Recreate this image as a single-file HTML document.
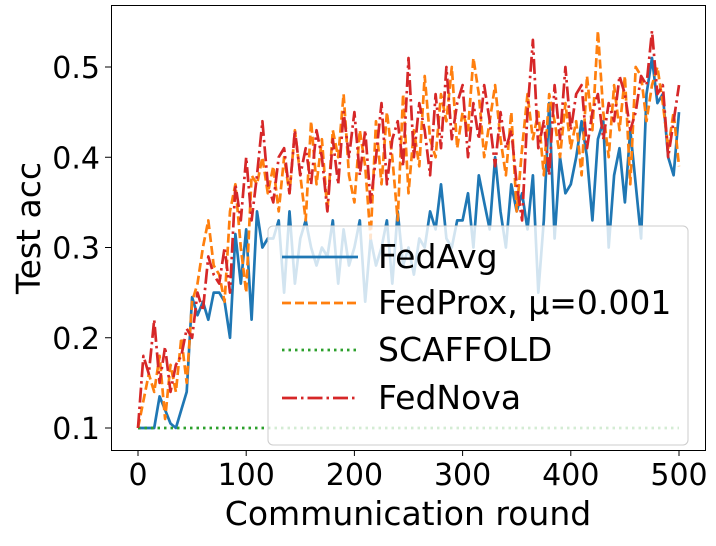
<!DOCTYPE html>
<html><head><meta charset="utf-8"><style>
html,body{margin:0;padding:0;background:#fff}
svg text{font-family:"DejaVu Sans","Liberation Sans",sans-serif;fill:#000}
</style></head><body>
<svg id="chart" width="716" height="541" xmlns="http://www.w3.org/2000/svg">
<g id="series"></g>
<rect x="111.5" y="5.5" width="594" height="445" fill="none" stroke="#000" stroke-width="1"/>
<g id="xticks"></g>
<g id="yticks"></g>
<text x="408" y="525" font-size="33" text-anchor="middle">Communication round</text>
<text transform="translate(40,228) rotate(-90)" font-size="33" text-anchor="middle">Test acc</text>
<g id="legend">
<rect x="268" y="226" width="420" height="219" rx="5" fill="#fff" fill-opacity="0.8" stroke="#ccc" stroke-width="1"/>
</g>
</svg>
<script>
const rounds=[];for(let r=0;r<=500;r+=5)rounds.push(r);
const fedavg=[0.10,0.10,0.10,0.10,0.135,0.12,0.105,0.10,0.12,0.14,
0.245,0.225,0.24,0.22,0.25,0.25,0.24,0.20,0.315,0.26,
0.32,0.22,0.34,0.30,0.31,0.31,0.33,0.25,0.34,0.26,
0.31,0.33,0.30,0.28,0.30,0.29,0.33,0.26,0.32,0.28,
0.30,0.33,0.24,0.31,0.28,0.30,0.33,0.26,0.34,0.28,
0.30,0.27,0.31,0.30,0.34,0.32,0.37,0.31,0.30,0.33,
0.33,0.36,0.30,0.38,0.35,0.32,0.40,0.34,0.30,0.37,
0.34,0.36,0.32,0.38,0.25,0.33,0.46,0.31,0.40,0.36,
0.37,0.40,0.44,0.40,0.33,0.42,0.44,0.30,0.38,0.41,
0.35,0.43,0.37,0.31,0.47,0.51,0.46,0.47,0.40,0.38,0.45];
const fedprox=[0.10,0.13,0.16,0.14,0.18,0.11,0.17,0.14,0.20,0.15,
0.24,0.26,0.30,0.33,0.28,0.27,0.24,0.34,0.37,0.30,
0.25,0.38,0.37,0.40,0.36,0.39,0.34,0.40,0.36,0.43,
0.38,0.33,0.44,0.37,0.42,0.34,0.43,0.40,0.47,0.38,
0.35,0.43,0.39,0.31,0.44,0.37,0.45,0.40,0.33,0.47,
0.36,0.43,0.39,0.49,0.42,0.40,0.47,0.44,0.50,0.41,
0.45,0.43,0.51,0.47,0.40,0.44,0.48,0.42,0.38,0.45,
0.34,0.41,0.47,0.42,0.45,0.38,0.47,0.44,0.40,0.46,
0.41,0.44,0.38,0.49,0.43,0.54,0.45,0.40,0.48,0.43,
0.49,0.37,0.50,0.49,0.44,0.48,0.50,0.46,0.41,0.45,0.39];
const scaffold=[0.1,0.1,0.1,0.1,0.1,0.1,0.1,0.1,0.1,0.1,0.1,0.1,0.1,0.1,0.1,0.1,0.1,0.1,0.1,0.1,
0.1,0.1,0.1,0.1,0.1,0.1,0.1,0.1,0.1,0.1,0.1,0.1,0.1,0.1,0.1,0.1,0.1,0.1,0.1,0.1,
0.1,0.1,0.1,0.1,0.1,0.1,0.1,0.1,0.1,0.1,0.1,0.1,0.1,0.1,0.1,0.1,0.1,0.1,0.1,0.1,
0.1,0.1,0.1,0.1,0.1,0.1,0.1,0.1,0.1,0.1,0.1,0.1,0.1,0.1,0.1,0.1,0.1,0.1,0.1,0.1,
0.1,0.1,0.1,0.1,0.1,0.1,0.1,0.1,0.1,0.1,0.1,0.1,0.1,0.1,0.1,0.1,0.1,0.1,0.1,0.1,0.1];
const fednova=[0.10,0.18,0.16,0.22,0.15,0.19,0.14,0.17,0.18,0.21,
0.20,0.25,0.23,0.29,0.27,0.26,0.30,0.25,0.37,0.33,
0.40,0.33,0.38,0.44,0.37,0.35,0.40,0.41,0.36,0.43,
0.38,0.41,0.37,0.43,0.40,0.34,0.42,0.37,0.45,0.40,
0.45,0.38,0.43,0.35,0.40,0.46,0.37,0.42,0.44,0.39,
0.51,0.40,0.46,0.43,0.38,0.47,0.41,0.50,0.42,0.46,
0.48,0.40,0.46,0.42,0.48,0.44,0.39,0.45,0.41,0.43,
0.37,0.33,0.45,0.53,0.41,0.44,0.38,0.48,0.42,0.50,
0.43,0.47,0.48,0.41,0.45,0.47,0.42,0.46,0.44,0.49,
0.47,0.43,0.45,0.49,0.48,0.54,0.47,0.48,0.40,0.44,0.48];
const xTicks=[0,100,200,300,400,500];
const yTicks=[0.1,0.2,0.3,0.4,0.5];
const names=["FedAvg","FedProx, μ=0.001","SCAFFOLD","FedNova"];

const NS="http://www.w3.org/2000/svg";
const X=v=>138+v*1.082;
const Y=v=>428-(v-0.1)*902.5;
function mk(t,a,p){const e=document.createElementNS(NS,t);for(const k in a)e.setAttribute(k,a[k]);p.appendChild(e);return e;}
const styles=[{c:"#1f77b4",d:""},{c:"#ff7f0e",d:"9,4"},{c:"#2ca02c",d:"2.5,4"},{c:"#d62728",d:"15,4,2.5,4"}];
const data=[fedavg,fedprox,scaffold,fednova];
const keys=["fedavg","fedprox","scaffold","fednova"];
const sg=document.getElementById("series");
data.forEach((s,i)=>{
  const p=mk("path",{d:s.map((v,j)=>(j?"L":"M")+X(rounds[j]).toFixed(1)+","+Y(v).toFixed(1)).join(""),fill:"none",stroke:styles[i].c,"stroke-width":2.7,"stroke-dasharray":styles[i].d,"stroke-linejoin":"round"},sg);
  
  
});
const xg=document.getElementById("xticks");
xTicks.forEach(t=>{
  const l=mk("line",{x1:X(t),x2:X(t),y1:450,y2:456,stroke:"#000"},xg);
  
  
  const tx=mk("text",{x:X(t),y:485,"font-size":30,"text-anchor":"middle"},xg);tx.textContent=t;
  
  
});
const yg=document.getElementById("yticks");
yTicks.forEach(t=>{
  const l=mk("line",{x1:105,x2:111,y1:Y(t),y2:Y(t),stroke:"#000"},yg);
  
  
  const tx=mk("text",{x:100,y:Y(t)+11,"font-size":30,"text-anchor":"end"},yg);tx.textContent=t.toFixed(1);
  
  
});
const lg=document.getElementById("legend");
const ly=[257,303,350,398];
names.forEach((n,i)=>{
  const l=mk("line",{x1:282,x2:358,y1:ly[i],y2:ly[i],stroke:styles[i].c,"stroke-width":2.7,"stroke-dasharray":styles[i].d},lg);
  
  
  const t=mk("text",{x:378,y:ly[i]+11,"font-size":33},lg);t.textContent=n;
  
  
});
</script>
</body></html>
